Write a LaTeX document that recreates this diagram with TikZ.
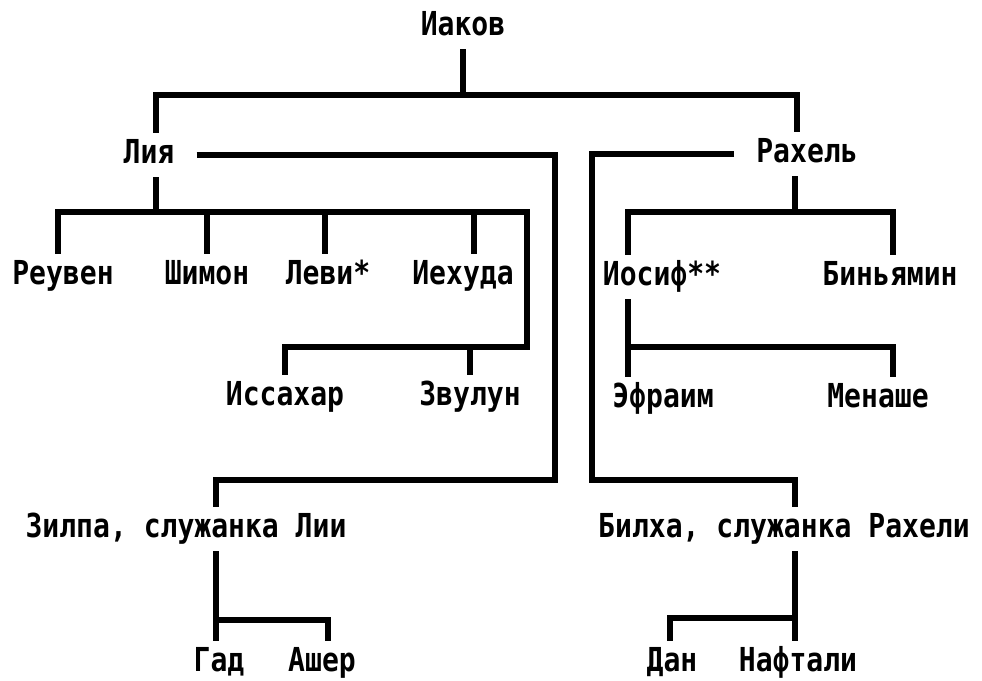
\documentclass[tikz,border=0pt]{standalone}
\usepackage{fontspec}
\newfontfamily\treefont[FakeStretch=0.85]{DejaVu Sans Mono}
\begin{document}
\begin{tikzpicture}[x=1pt,y=-1pt,
    person/.style={font=\treefont\bfseries\fontsize{33}{36}\selectfont,
      anchor=base,text height=22pt,text depth=6pt,
      inner ysep=8pt,inner xsep=22pt},
    link/.style={line width=6pt,line join=miter}]
  \useasboundingbox (0,0) rectangle (982,680);

  % Generations
  \node[person] (iakov) at (463,35) {Иаков};
  \node[person] (liya) at (149,163) {Лия};
  \node[person] (rahel) at (807,162) {Рахель};
  \node[person] (reuven) at (63,284) {Реувен};
  \node[person] (shimon) at (207,284) {Шимон};
  \node[person] (levi) at (328,284) {Леви*};
  \node[person] (iehuda) at (463,284) {Иехуда};
  \node[person] (issachar) at (285,405) {Иссахар};
  \node[person] (zvulun) at (470,405) {Звулун};
  \node[person] (iosif) at (662,285) {Иосиф**};
  \node[person] (binyamin) at (890,285) {Биньямин};
  \node[person] (efraim) at (663,407) {Эфраим};
  \node[person] (menashe) at (878,407) {Менаше};
  \node[person] (zilpa) at (186,537) {Зилпа, служанка Лии};
  \node[person] (bilha) at (784,537) {Билха, служанка Рахели};
  \node[person] (gad) at (219,671) {Гад};
  \node[person] (asher) at (322,671) {Ашер};
  \node[person] (dan) at (672,671) {Дан};
  \node[person] (naftali) at (798,671) {Нафтали};

  % Bar levels
  \coordinate (topbar) at (0,95);
  \coordinate (leahbar) at (0,212);
  \coordinate (leahturn) at (527,212);
  \coordinate (issbar) at (0,347);
  \coordinate (leahline) at (555,480);
  \coordinate (rachelline) at (592,480);
  \coordinate (rachelbar) at (0,212);
  \coordinate (iosifbar) at (0,347);
  \coordinate (zilpabar) at (0,620);
  \coordinate (bilhabar) at (0,618);

  % Iakov and his wives
  \draw[link] (iakov.south) -- (iakov.south |- topbar);
  \draw[link] ([xshift=7pt]liya.north) -- ([xshift=7pt]liya.north |- topbar)
    -| ([xshift=-10pt]rahel.north);

  % Leah's sons
  \draw[link] ([xshift=7pt]liya.south) -- ([xshift=7pt]liya.south |- leahbar);
  \draw[link] ([xshift=-5pt]reuven.north) |- (leahturn)
    -- (leahturn |- issbar) -| (issachar.north);
  \draw[link] (shimon.north) -- (shimon.north |- leahbar);
  \draw[link] ([xshift=-3pt]levi.north) -- ([xshift=-3pt]levi.north |- leahbar);
  \draw[link] ([xshift=11pt]iehuda.north) -- ([xshift=11pt]iehuda.north |- leahbar);
  \draw[link] (zvulun.north) -- (zvulun.north |- issbar);

  % Handmaids
  \draw[link] (liya.east) -| (leahline) -| ([xshift=30pt]zilpa.north);
  \draw[link] (rahel.west) -| (rachelline) -| ([xshift=11pt]bilha.north);

  % Rachel's sons
  \draw[link] ([xshift=-12pt]rahel.south) -- ([xshift=-12pt]rahel.south |- rachelbar);
  \draw[link] ([xshift=-34pt]iosif.north) -- ([xshift=-34pt]iosif.north |- rachelbar)
    -| ([xshift=3pt]binyamin.north);
  \draw[link] ([xshift=-34pt]iosif.south) -- ([xshift=-34pt]iosif.south |- efraim.north);
  \draw[link] ([xshift=-34pt]iosif.south |- iosifbar) -| ([xshift=15pt]menashe.north);

  % Sons of the handmaids
  \draw[link] ([xshift=30pt]zilpa.south) -- ([xshift=30pt]zilpa.south |- gad.north);
  \draw[link] ([xshift=30pt]zilpa.south |- zilpabar) -| ([xshift=6pt]asher.north);
  \draw[link] ([xshift=11pt]bilha.south) -- ([xshift=11pt]bilha.south |- naftali.north);
  \draw[link] ([xshift=11pt]bilha.south |- bilhabar) -| ([xshift=-2pt]dan.north);
\end{tikzpicture}
\end{document}
